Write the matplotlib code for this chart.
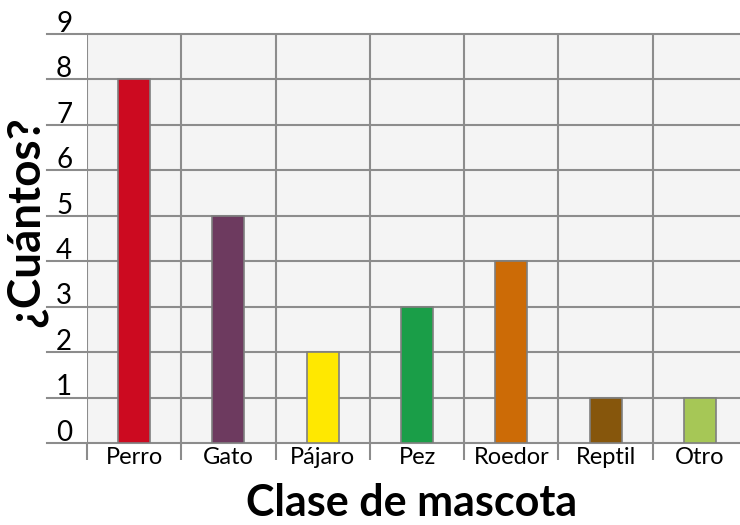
import matplotlib.pyplot as plt
import matplotlib.transforms as mtransforms

categories = ["Perro", "Gato", "Pájaro", "Pez", "Roedor", "Reptil", "Otro"]
values = [8, 5, 2, 3, 4, 1, 1]
colors = ["#cc0a20", "#6d3a5f", "#ffe800", "#1a9e48", "#cc6b06", "#86560c", "#a6c756"]
yticks = list(range(0, 10))

plt.rcParams['font.family'] = ['Lato', 'DejaVu Sans']

fig = plt.figure(figsize=(7.4, 5.25), dpi=100)
ax = fig.add_axes([87 / 740, 1 - 443 / 525, 653 / 740, (443 - 34) / 525])
ax.set_facecolor("#f4f4f4")

x = list(range(len(categories)))
ax.bar(x, values, width=0.34, color=colors, edgecolor="#7f7f7f", linewidth=1.2, zorder=3)

ax.set_xlim(-0.5, 6.425)
ax.set_ylim(0, 9)

grid_color = "#8c8c8c"
# horizontal grid lines reaching out into the label area
trans = mtransforms.blended_transform_factory(ax.transAxes, ax.transData)
left_ext = (47 - 87) / 653
for y in yticks:
    ax.plot([left_ext, 1], [y, y], color=grid_color, lw=1.5, transform=trans,
            clip_on=False, zorder=2)
    ax.text((56 - 87) / 653, y + 0.05, str(y), transform=trans, ha="left",
            va="baseline", fontsize=20)

# vertical separators with ticks below
bounds = [i - 0.5 for i in range(len(categories))]
for b in bounds:
    ax.axvline(b, color=grid_color, lw=1.5, zorder=2)
ax.set_xticks(bounds, minor=True)
ax.tick_params(axis="x", which="minor", length=12, width=1.5, color=grid_color)
ax.set_xticks(x)
ax.set_xticklabels(categories, fontsize=17)
ax.tick_params(axis="x", which="major", length=0, pad=3)
ax.set_yticks([])

for s in ax.spines.values():
    s.set_visible(False)

fig.text(26 / 740, 1 - 222 / 525, "¿Cuántos?", rotation=90, ha="center",
         va="center", fontsize=33, fontweight="bold")
fig.text(412 / 740, 1 - 516 / 525, "Clase de mascota", ha="center",
         va="baseline", fontsize=31, fontweight="bold")

fig.savefig("out.png", dpi=100)
